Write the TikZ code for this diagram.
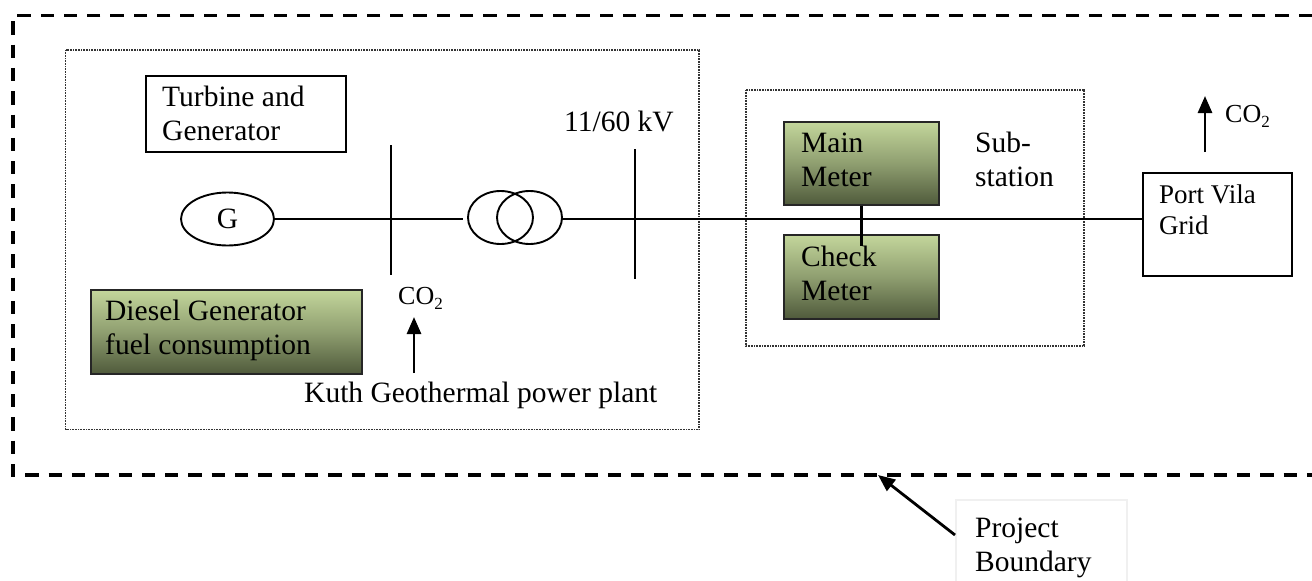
\documentclass[tikz,border=0pt]{standalone}
\usepackage{fontspec}
\setmainfont{Liberation Serif}
\usetikzlibrary{arrows.meta,shapes.geometric}
\newcommand{\cotwo}{CO{\fontsize{17}{17}\selectfont\raisebox{-5pt}{2}}}
\definecolor{gtop}{HTML}{C3D69B}
\definecolor{gbot}{HTML}{4F5A3B}
\tikzset{
  x=1pt,y=-1pt,
  txt/.style={font=\fontsize{29.5}{34}\selectfont,inner sep=0pt,anchor=north west,align=left,text=black},
  smalltxt/.style={font=\fontsize{27}{30.7}\selectfont,inner sep=0pt,anchor=north west,align=left,text=black},
  co/.style={font=\fontsize{26}{31}\selectfont,inner sep=0pt,anchor=base west,text=black},
  plainbox/.style={draw=black,line width=1.8pt,anchor=north west,inner sep=0pt,fill=white},
  greenbox/.style={draw=black!85,line width=2pt,anchor=north west,inner sep=0pt,top color=gtop,bottom color=gbot,middle color=gtop!55!gbot},
  dotbox/.style={draw=black!80,line width=1.1pt,dash pattern=on 1pt off 0.6pt},
  boundary/.style={draw=black,line width=3.2pt,dash pattern=on 13.3pt off 10pt},
  wire/.style={draw=black,line width=2pt},
  thickwire/.style={draw=black,line width=2.6pt},
  uparrow/.style={draw=black,line width=2.8pt,-{Triangle[length=17pt,width=14pt]}},
  xfmr/.style={draw=black,line width=1.9pt,ellipse,minimum width=65pt,minimum height=53pt,inner sep=0pt},
}
\begin{document}
\begin{tikzpicture}
\useasboundingbox (0,0) rectangle (1312,581);
\clip (0,0) rectangle (1312,581);
% project boundary
\coordinate (bTR) at (1312,15.5);
\coordinate (bTL) at (13,15.5);
\coordinate (bBL) at (13,475);
\coordinate (bBR) at (1312,475);
\draw[boundary] (bTR) -- (bTL) -- (bBL) -- (bBR);
% containers
\draw[dotbox] (65.5,50) rectangle (699,429.5);
\draw[dotbox] (746,90) rectangle (1084,346);
% boxes
\node[plainbox,minimum width=200pt,minimum height=76pt] (turbine) at (145,75) {};
\node[txt] (turbinet) at (162,86) {Turbine and\\Generator};
\node[draw=black,line width=1.9pt,ellipse,minimum width=93pt,minimum height=53pt,inner sep=0pt,font=\fontsize{29.5}{34}\selectfont] (gen) at (227.5,219) {G};
\node[xfmr] (tl) at (500.5,217.5) {};
\node[xfmr] (tr) at (529.5,217.5) {};
\coordinate (b1t) at (391,145);
\coordinate (b1b) at (391,275);
\coordinate (b2t) at (635,149);
\coordinate (b2b) at (635,279);
\draw[wire] (b1t) -- (b1b);
\draw[wire] (b2t) -- (b2b);
\node[greenbox,minimum width=271pt,minimum height=84pt] (diesel) at (90,289) {};
\node[txt] (dieselt) at (105,300) {Diesel Generator\\fuel consumption};
\node[greenbox,minimum width=155pt,minimum height=83pt] (main) at (783,121) {};
\node[txt] (maint) at (801,133) {Main\\Meter};
\node[greenbox,minimum width=155pt,minimum height=84pt] (check) at (783,234) {};
\node[txt] (checkt) at (801,246) {Check\\Meter};
\node[plainbox,minimum width=149pt,minimum height=103pt] (grid) at (1142,172) {};
\node[smalltxt] (gridt) at (1159,185) {Port Vila\\Grid};
\node[draw=black!6,line width=1.6pt,anchor=north west,inner sep=0pt,minimum width=171pt,minimum height=100pt] (pb) at (955,499) {};
\node[txt] (pbt) at (975,518) {Project\\Boundary};
% connectors
\coordinate (tin) at (463,219);
\coordinate (tout) at (562,219);
\draw[wire] (gen.east) -- (tin);
\draw[wire] (tout) -- (grid.west |- tout);
\draw[thickwire] (main.south) -- ++(0,40);
% texts
\node[txt] (kv) at (564,111) {11/60 kV};
\node[txt] (sub) at (975,132) {Sub-\\station};
\node[txt] (kuth) at (304,382) {Kuth Geothermal power plant};
\coordinate (a1s) at (414,373);
\coordinate (a1e) at (414,317);
\draw[uparrow] (a1s) -- (a1e);
\coordinate (a2s) at (1205,152);
\coordinate (a2e) at (1205,96);
\draw[uparrow] (a2s) -- (a2e);
\node[co] (co1) at (398,304) {\cotwo};
\node[co] (co2) at (1225,122) {\cotwo};
\coordinate (a3e) at (878,475);
\draw[draw=black,line width=2.8pt,-{Triangle[length=17pt,width=14pt]}] (pb.west |- 0,535) -- (a3e);
\end{tikzpicture}
\end{document}
